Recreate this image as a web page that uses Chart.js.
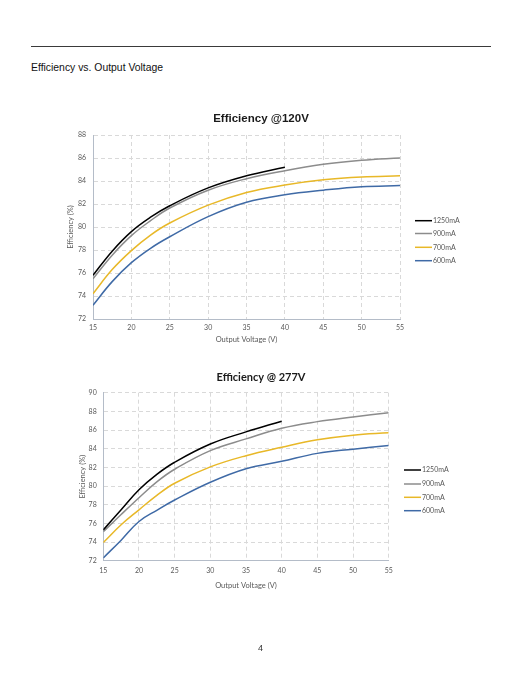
<!DOCTYPE html>
<html>
<head>
<meta charset="utf-8">
<script src="https://cdn.jsdelivr.net/npm/chart.js@4"></script>
<style>
    html, body { margin: 0; padding: 0; background: #fff; }
    #page { position: relative; width: 522px; height: 676px; overflow: hidden; }
    #page canvas { position: absolute; left: 0; top: 0; }
    #rule { position: absolute; left: 31px; top: 46px; width: 460px; border-top: 1px solid #3a3a3a; }
    #heading { position: absolute; left: 31px; top: 62px; font: 10.4px "Liberation Sans", Arial, sans-serif; color: #111; }
    #pageNum { position: absolute; left: 258px; top: 643px; font: 9px "Liberation Sans", Arial, sans-serif; color: #333; }
</style>
</head>
<body>
<div id="page">
    <div id="rule"></div>
    <div id="heading">Efficiency vs. Output Voltage</div>
    <canvas id="chart120" width="522" height="676"></canvas>
    <canvas id="chart277" width="522" height="676"></canvas>
    <div id="pageNum">4</div>
</div>
<script>
// output voltage points (V)
const voltsShort = [15, 17.5, 20, 22.5, 25, 30, 35, 40];
const voltsLong = [15, 17.5, 20, 22.5, 25, 30, 35, 40, 45, 50, 55];
const seriesNames = ['1250mA', '900mA', '700mA', '600mA'];
const seriesColors = ['#000000', '#8c8c8c', '#e8b828', '#3f6aa6'];

// efficiency (%) @120V input
const eff120_1250 = [75.8, 77.9, 79.6, 80.85, 81.85, 83.4, 84.45, 85.2];
const eff120_900 = [75.5, 77.55, 79.25, 80.55, 81.65, 83.2, 84.2, 84.9, 85.45, 85.8, 86.0];
const eff120_700 = [74.2, 76.3, 77.95, 79.3, 80.35, 81.9, 83.0, 83.65, 84.1, 84.35, 84.45];
const eff120_600 = [73.2, 75.25, 76.9, 78.15, 79.15, 80.9, 82.15, 82.8, 83.2, 83.5, 83.6];

// efficiency (%) @277V input
const eff277_1250 = [75.3, 77.45, 79.6, 81.25, 82.55, 84.5, 85.8, 86.95];
const eff277_900 = [75.1, 76.95, 78.75, 80.45, 81.8, 83.8, 85.05, 86.2, 86.9, 87.4, 87.85];
const eff277_700 = [73.95, 75.85, 77.45, 79.0, 80.3, 82.05, 83.25, 84.15, 84.95, 85.45, 85.7];
const eff277_600 = [72.3, 74.2, 76.2, 77.4, 78.5, 80.4, 81.85, 82.65, 83.5, 83.95, 84.35];

const xTicks = [15, 20, 25, 30, 35, 40, 45, 50, 55];

const tickColor = '#595959';
const chartFont = 'Lato';

function toPoints(xs, ys) {
    return ys.map((y, i) => ({ x: xs[i], y: y }));
}

function makeDatasets(lists) {
    return lists.map((pts, i) => ({
        label: seriesNames[i],
        data: pts,
        borderColor: seriesColors[i],
        backgroundColor: seriesColors[i],
        borderWidth: 1.5,
        pointRadius: 0,
        fill: false,
        tension: 0.4
    }));
}

// simple legend to the right of the plot, one short line per series
const sideLegend = {
    id: 'sideLegend',
    afterDraw(chart, args, opts) {
        const ctx = chart.ctx;
        ctx.save();
        ctx.font = '7px ' + chartFont;
        ctx.textBaseline = 'middle';
        ctx.textAlign = 'left';
        chart.data.datasets.forEach((ds, i) => {
            const y = opts.rows[i];
            ctx.strokeStyle = ds.borderColor;
            ctx.lineWidth = 1.5;
            ctx.beginPath();
            ctx.moveTo(opts.x1, y);
            ctx.lineTo(opts.x2, y);
            ctx.stroke();
            ctx.fillStyle = tickColor;
            ctx.fillText(ds.label, opts.textX, y);
        });
        ctx.restore();
    }
};

function buildChart(id, cfg) {
    return new Chart(document.getElementById(id), {
        type: 'line',
        data: { datasets: makeDatasets(cfg.series) },
        plugins: [sideLegend],
        options: {
            responsive: false,
            animation: false,
            devicePixelRatio: 1,
            layout: { padding: { top: cfg.padTop, bottom: cfg.padBottom, left: 0, right: 0 } },
            plugins: {
                legend: { display: false },
                tooltip: { enabled: false },
                title: {
                    display: true,
                    text: cfg.title,
                    color: '#1a1a1a',
                    font: cfg.titleFont,
                    padding: cfg.titlePad
                },
                sideLegend: cfg.legend
            },
            scales: {
                x: {
                    type: 'linear',
                    min: 15,
                    max: 55,
                    afterBuildTicks: (scale) => { scale.ticks = xTicks.map(v => ({ value: v })); },
                    afterFit: (scale) => { scale.height = cfg.xHeight; },
                    grid: { color: '#d9d9d9', drawTicks: false },
                    border: { color: '#b4bcc8', width: 1, dash: [4, 3] },
                    ticks: { color: tickColor, font: { family: chartFont, size: 7 }, padding: cfg.xTickPad, maxRotation: 0 },
                    title: {
                        display: true,
                        text: 'Output Voltage (V)',
                        color: tickColor,
                        font: { family: chartFont, size: 7.5 },
                        padding: { top: 0, bottom: 0 }
                    }
                },
                y: {
                    type: 'linear',
                    min: cfg.yMin,
                    max: cfg.yMax,
                    ticks: { stepSize: 2, color: tickColor, font: { family: chartFont, size: 7 }, padding: cfg.yTickPad },
                    afterFit: (scale) => { scale.width = cfg.yWidth; },
                    grid: { color: '#d9d9d9', drawTicks: false },
                    border: { color: '#b4bcc8', width: 1, dash: [4, 3] },
                    title: {
                        display: true,
                        text: 'Efficiency (%)',
                        color: tickColor,
                        font: { family: chartFont, size: 7.5 },
                        padding: { top: cfg.yTitlePad, bottom: 0 }
                    }
                },
                // empty axis, only reserves room for the legend on the right
                yRight: {
                    type: 'linear',
                    position: 'right',
                    grid: { display: false },
                    border: { display: false },
                    ticks: { display: false },
                    afterFit: (scale) => { scale.width = cfg.rightWidth; }
                }
            }
        }
    });
}

buildChart('chart120', {
    title: 'Efficiency @120V',
    titleFont: { family: '"Liberation Sans", Arial, sans-serif', size: 11.5, weight: 'bold', lineHeight: 1.2 },
    titlePad: { top: 12.1, bottom: 9.1 },
    padTop: 100,
    padBottom: 332,
    xHeight: 25,
    xTickPad: 5,
    yTickPad: 7,
    yWidth: 93,
    yTitlePad: 65.8,
    rightWidth: 122,
    yMin: 72,
    yMax: 88,
    series: [
        toPoints(voltsShort, eff120_1250),
        toPoints(voltsLong, eff120_900),
        toPoints(voltsLong, eff120_700),
        toPoints(voltsLong, eff120_600)
    ],
    legend: { x1: 415, x2: 432, textX: 433, rows: [220.7, 233.5, 247.3, 260.7] }
});

buildChart('chart277', {
    title: 'Efficiency @ 277V',
    titleFont: { family: chartFont, size: 11, weight: 'bold', lineHeight: 1.2 },
    titlePad: { top: 10.4, bottom: 9.1 },
    padTop: 360,
    padBottom: 85.8,
    xHeight: 29.5,
    xTickPad: 6,
    yTickPad: 6.6,
    yWidth: 103.3,
    yTitlePad: 78.1,
    rightWidth: 133.3,
    yMin: 72,
    yMax: 90,
    series: [
        toPoints(voltsShort, eff277_1250),
        toPoints(voltsLong, eff277_900),
        toPoints(voltsLong, eff277_700),
        toPoints(voltsLong, eff277_600)
    ],
    legend: { x1: 404, x2: 421, textX: 422, rows: [470, 484, 497.3, 510.7] }
});
</script>
</body>
</html>
